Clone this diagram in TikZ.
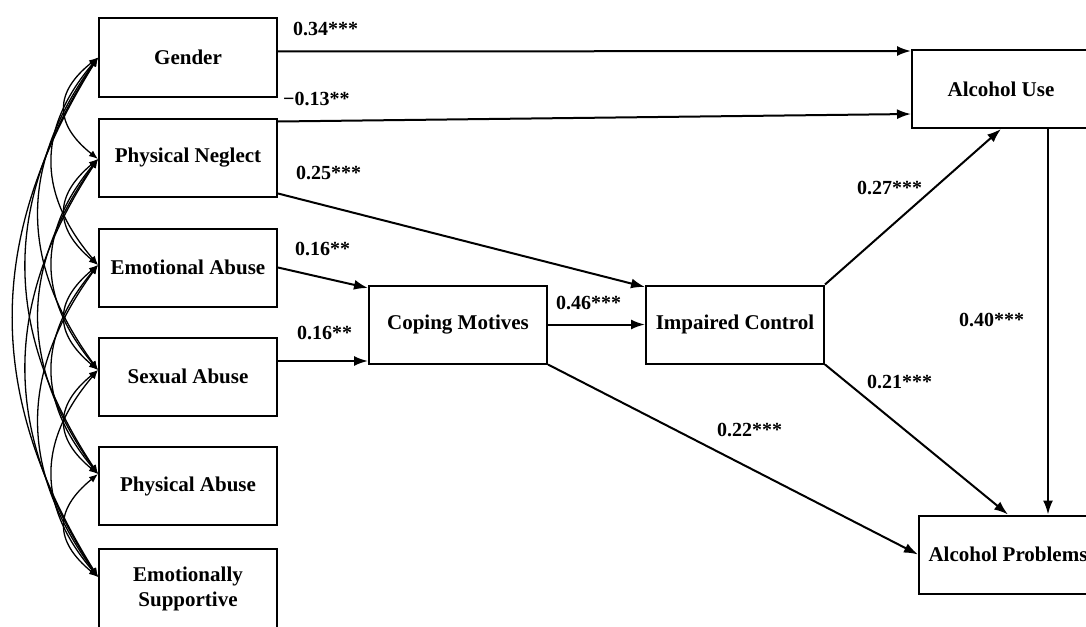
\documentclass[tikz,border=0pt]{standalone}
\usepackage{fontspec}
\setmainfont{Liberation Serif}
\usetikzlibrary{arrows.meta,calc}
\begin{document}
\begin{tikzpicture}[x=1pt,y=-1pt,
 box/.style={draw,line width=2pt,minimum width=178pt,minimum height=78pt,inner sep=0pt,
   font=\fontsize{21}{25}\selectfont\bfseries,align=center},
 patharrow/.style={line width=2pt,-{Latex[length=14pt,width=10pt]}},
 cov/.style={line width=1.3pt,{Latex[length=9pt,width=7pt]}-{Latex[length=9pt,width=7pt]}},
 lab/.style={anchor=west,inner sep=0pt,font=\fontsize{20}{22}\selectfont\bfseries}]
\useasboundingbox (0,0) rectangle (1086,626);

% boxes
\node[box] (gender) at (188,57.5) {Gender};
\node[box] (pn) at (188,157.5) {Physical Neglect};
\node[box] (ea) at (188,267.5) {Emotional Abuse};
\node[box] (sa) at (188,376.5) {Sexual Abuse};
\node[box] (pa) at (188,486) {Physical Abuse};
\node[box,minimum height=80pt] (es) at (188,589) {Emotionally\\Supportive};
\node[box] (cm) at (458,324.5) {Coping Motives};
\node[box] (ic) at (735,324.5) {Impaired Control};
\node[box] (au) at (1001,89) {Alcohol Use};
\node[box] (ap) at (1008,554.5) {Alcohol Problems};

% covariance anchor points
\coordinate (l1) at (gender.west);
\coordinate (l2) at ([yshift=-1.5pt]pn.west);
\coordinate (l3) at ([yshift=2.5pt]ea.west);
\coordinate (l4) at ([yshift=6.5pt]sa.west);
\coordinate (l5) at ([yshift=12pt]pa.west);
\coordinate (l6) at ([yshift=12pt]es.west);

% covariances
\draw[cov] (l1) .. controls +(-44,35) and +(-44,-35) .. (l2);
\draw[cov] (l2) .. controls +(-44,37) and +(-44,-37) .. (l3);
\draw[cov] (l3) .. controls +(-44,37) and +(-44,-37) .. (l4);
\draw[cov] (l4) .. controls +(-44,36) and +(-44,-36) .. (l5);
\draw[cov] (l5) .. controls +(-44,36) and +(-44,-36) .. (l6);
\draw[cov] (l1) .. controls +(-61,72) and +(-61,-72) .. (l3);
\draw[cov] (l2) .. controls +(-61,74) and +(-61,-74) .. (l4);
\draw[cov] (l3) .. controls +(-61,73) and +(-61,-73) .. (l5);
\draw[cov] (l4) .. controls +(-61,72) and +(-61,-72) .. (l6);
\draw[cov] (l1) .. controls +(-79,109) and +(-79,-109) .. (l4);
\draw[cov] (l2) .. controls +(-79,110) and +(-79,-110) .. (l5);
\draw[cov] (l3) .. controls +(-79,109) and +(-79,-109) .. (l6);
\draw[cov] (l1) .. controls +(-96,146) and +(-96,-146) .. (l5);
\draw[cov] (l2) .. controls +(-96,146) and +(-96,-146) .. (l6);
\draw[cov] (l1) .. controls +(-113,182) and +(-113,-182) .. (l6);

% structural paths
\draw[patharrow] ([yshift=6pt]gender.east) -- ([yshift=38pt]au.west);
\draw[patharrow] ([yshift=-4pt]pn.north east) -- ([yshift=-25pt]au.west);
\draw[patharrow] ([yshift=4pt]pn.south east) -- ([yshift=-2.5pt]ic.north west);
\draw[patharrow] (ea.east) -- ([yshift=-3.5pt]cm.north west);
\draw[patharrow] ([yshift=15.5pt]sa.east) -- ([yshift=3.5pt]cm.south west);
\draw[patharrow] (cm.east) -- (ic.west);
\draw[patharrow] (cm.south east) -- (ap.west);
\draw[patharrow] (ic.north east) -- (au.south);
\draw[patharrow] (ic.south east) -- (ap.north);
\draw[patharrow] ([xshift=47pt]au.south) -- ([xshift=47pt]au.south |- ap.north);

% labels
\node[lab] (t1) at (293,29) {0.34***};
\node[lab] (t2) at (283,99) {−0.13**};
\node[lab] (t3) at (296,173) {0.25***};
\node[lab] (t4) at (295,249) {0.16**};
\node[lab] (t5) at (297,333) {0.16**};
\node[lab] (t6) at (556,303) {0.46***};
\node[lab] (t7) at (857,188) {0.27***};
\node[lab] (t8) at (959,320) {0.40***};
\node[lab] (t9) at (867,382) {0.21***};
\node[lab] (t10) at (717,430) {0.22***};
\end{tikzpicture}
\end{document}
